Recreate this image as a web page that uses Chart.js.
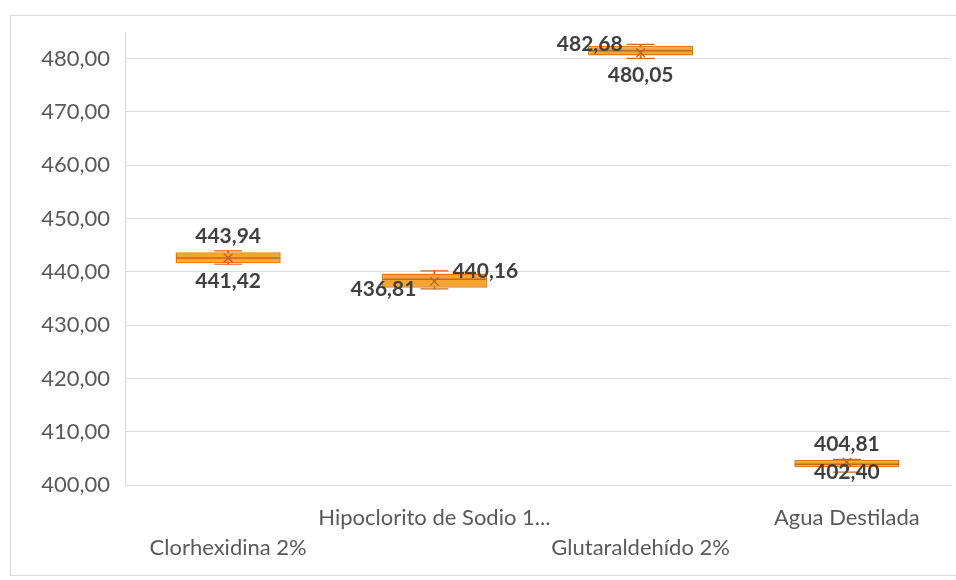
<!DOCTYPE html>
<html>
<head>
<meta charset="utf-8">
<script src="https://cdn.jsdelivr.net/npm/chart.js@4.4.1/dist/chart.umd.min.js"></script>
<style>
  html, body { margin: 0; padding: 0; background: #ffffff; }
  #wrap { position: relative; width: 956px; height: 580px; overflow: hidden; }
  #frame { position: absolute; left: 10px; top: 15px; width: 960px; height: 561px; border: 1px solid #d9d9d9; box-sizing: border-box; }
  #c { position: absolute; left: 0; top: 0; }
</style>
</head>
<body>
<div id="wrap">
  <div id="frame"></div>
  <canvas id="c" width="956" height="580"></canvas>
</div>
<script>
const categories = ['Clorhexidina 2%', 'Hipoclorito de Sodio 1...', 'Glutaraldehído 2%', 'Agua Destilada'];
const minValues    = [441.42, 436.81, 480.05, 402.40];
const q1Values     = [441.60, 437.00, 480.60, 403.40];
const medianValues = [442.60, 438.60, 481.50, 403.90];
const q3Values     = [443.65, 439.70, 482.40, 404.70];
const maxValues    = [443.94, 440.16, 482.68, 404.81];
const meanValues   = [442.60, 438.20, 481.10, 404.30];
const yTicks = [400, 410, 420, 430, 440, 450, 460, 470, 480];
const yMin = 400, yMax = 485;

const FONT = 'Lato, "Open Sans", sans-serif';
const fmt = v => v.toFixed(2).replace('.', ',');

const labelPlugin = {
  id: 'boxLabels',
  afterDatasetsDraw(chart, args, opts) {
    const ctx = chart.ctx;
    const xs = chart.scales.x, ys = chart.scales.y;
    ctx.save();
    ctx.font = 'bold 21px ' + FONT;
    ctx.fillStyle = '#404040';
    ctx.textBaseline = 'middle';
    const draw = (val, i, place) => {
      const cx = xs.getPixelForValue(i);
      const y = ys.getPixelForValue(val);
      let x = cx, yy = y, align = 'center';
      if (place === 'top') yy = y - 15;
      else if (place === 'bottom') yy = y + 17;
      else if (place === 'left') { x = cx - 18; align = 'right'; }
      else if (place === 'right') { x = cx + 18; align = 'left'; }
      ctx.textAlign = align;
      ctx.fillText(fmt(val), x, yy);
    };
    categories.forEach((c, i) => {
      draw(maxValues[i], i, opts.maxPlace[i]);
      draw(minValues[i], i, opts.minPlace[i]);
    });
    ctx.restore();
  }
};

new Chart(document.getElementById('c'), {
  type: 'bar',
  data: {
    labels: categories,
    datasets: [
      {
        type: 'line', label: 'mean', data: meanValues, showLine: false,
        pointStyle: 'crossRot', pointRadius: 6, borderColor: '#b5601c', borderWidth: 1.2,
        backgroundColor: '#b5601c', order: 0
      },
      {
        type: 'line', label: 'median', data: medianValues, showLine: false,
        pointStyle: 'line', pointRadius: 52, borderColor: '#c8691f', borderWidth: 1.5, order: 1
      },
      {
        type: 'line', label: 'capMax', data: maxValues, showLine: false,
        pointStyle: 'line', pointRadius: 14, borderColor: '#c8691f', borderWidth: 1.2, order: 1
      },
      {
        type: 'line', label: 'capMin', data: minValues, showLine: false,
        pointStyle: 'line', pointRadius: 14, borderColor: '#c8691f', borderWidth: 1.2, order: 1
      },
      {
        label: 'box', data: q1Values.map((v, i) => [v, q3Values[i]]),
        backgroundColor: '#f2a530', borderColor: '#de7c1c', borderWidth: 1.5,
        borderSkipped: false, grouped: false, barPercentage: 0.51, categoryPercentage: 1, order: 2
      },
      {
        label: 'whisker', data: minValues.map((v, i) => [v, maxValues[i]]),
        backgroundColor: '#c8691f', borderWidth: 0,
        grouped: false, barThickness: 1.2, order: 3
      }
    ]
  },
  options: {
    responsive: false,
    devicePixelRatio: 1,
    animation: false,
    layout: { autoPadding: false, padding: { left: 10, right: 6, top: 32, bottom: 0 } },
    plugins: {
      legend: { display: false },
      tooltip: { enabled: false },
      boxLabels: {
        maxPlace: ['top', 'right', 'left', 'top'],
        minPlace: ['bottom', 'left', 'bottom', 'center']
      }
    },
    scales: {
      x: {
        grid: { display: false, drawTicks: false },
        border: { display: true, color: '#d9d9d9' },
        afterFit(scale) {
          scale.height = 95;
          scale.paddingLeft = 0; scale.paddingRight = 0;
        },
        ticks: {
          autoSkip: false, maxRotation: 0, minRotation: 0, padding: 18,
          color: '#595959',
          font: { family: FONT, size: 22, lineHeight: '30px' },
          callback(value, index) {
            const name = categories[index];
            return index % 2 === 0 ? ['', name] : [name, ''];
          }
        }
      },
      y: {
        min: yMin, max: yMax,
        afterFit(scale) {
          scale.width = 115;
          scale.paddingTop = 0; scale.paddingBottom = 0;
        },
        afterBuildTicks(scale) {
          scale.ticks = yTicks.map(v => ({ value: v }));
        },
        grid: { color: '#d9d9d9', lineWidth: 1, drawTicks: false },
        border: { display: true, color: '#d9d9d9' },
        ticks: {
          padding: 15, color: '#595959',
          font: { family: FONT, size: 22 },
          callback: v => fmt(v)
        }
      }
    }
  },
  plugins: [labelPlugin]
});
</script>
</body>
</html>
